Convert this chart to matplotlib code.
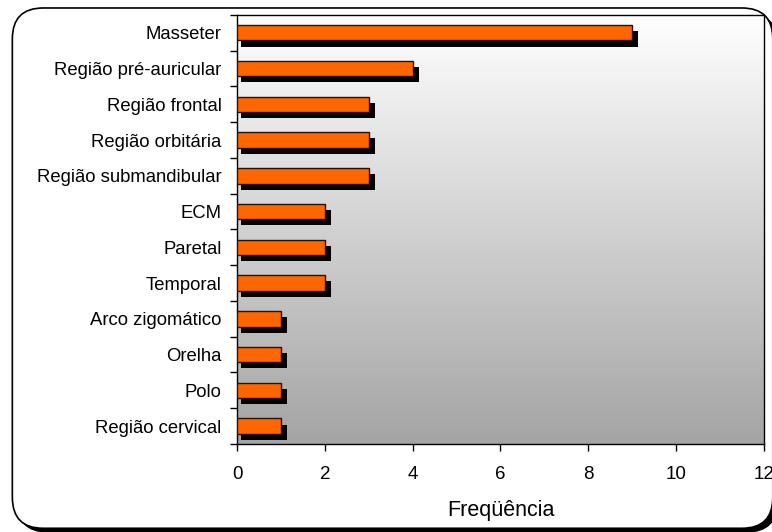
import numpy as np
import matplotlib
matplotlib.use('Agg')
import matplotlib.pyplot as plt
from matplotlib.patches import FancyBboxPatch
from matplotlib.colors import LinearSegmentedColormap

plt.rcParams['font.family'] = ['Liberation Sans', 'DejaVu Sans']

locais = ["Masseter", "Região pré-auricular", "Região frontal", "Região orbitária",
          "Região submandibular", "ECM", "Paretal", "Temporal", "Arco zigomático",
          "Orelha", "Polo", "Região cervical"]
freq = [9, 4, 3, 3, 3, 2, 2, 2, 1, 1, 1, 1]
xticks = [0, 2, 4, 6, 8, 10, 12]

fig = plt.figure(figsize=(7.72, 5.32), dpi=100)

# rounded frame with drop shadow
shadow = FancyBboxPatch((0.022, 0.0), 0.985, 0.975, boxstyle="round,pad=0,rounding_size=0.04",
                        transform=fig.transFigure, facecolor="black", edgecolor="black",
                        zorder=-2, mutation_aspect=772/532)
frame = FancyBboxPatch((0.016, 0.007), 0.985, 0.978, boxstyle="round,pad=0,rounding_size=0.04",
                       transform=fig.transFigure, facecolor="white", edgecolor="black",
                       linewidth=1.2, zorder=-1, mutation_aspect=772/532)
fig.patches.extend([shadow, frame])

ax = fig.add_axes([0.307, 0.1654, 0.6826, 0.8066])
ax.set_facecolor("none")
ax.set_zorder(1)

n = len(locais)
y = np.arange(n)

# grey gradient behind the bars
cmap = LinearSegmentedColormap.from_list("bg", ["#ffffff", "#a4a4a4"])
grad = np.linspace(0, 1, 256).reshape(-1, 1)
ax.imshow(grad, cmap=cmap, aspect="auto", extent=[0, 12, n - 0.5, -0.5], zorder=0)

ax.barh(y + 0.17, np.array(freq) + 0.05, left=0.09, height=0.43, color="black", zorder=2)
ax.barh(y, freq, height=0.43, color="#ff6600", edgecolor="#2b1000", linewidth=1.0, zorder=3)

ax.set_xlim(0, 12)
ax.set_ylim(n - 0.5, -0.5)
ax.set_xticks(xticks)
ax.set_xticklabels([str(v) for v in xticks], fontsize=13.5)
ax.set_yticks(y)
ax.set_yticklabels(locais, fontsize=13.3)
ax.set_yticks(np.arange(n + 1) - 0.5, minor=True)
ax.tick_params(axis="y", which="major", length=0, pad=11)
ax.tick_params(axis="y", which="minor", length=5, width=1, direction="out")
ax.tick_params(axis="x", length=5, width=1, direction="out", pad=11)
for s in ax.spines.values():
    s.set_linewidth(1.0)
ax.set_xlabel("Freqüência", fontsize=15.5, labelpad=12)

plt.savefig("out.png", dpi=100)
